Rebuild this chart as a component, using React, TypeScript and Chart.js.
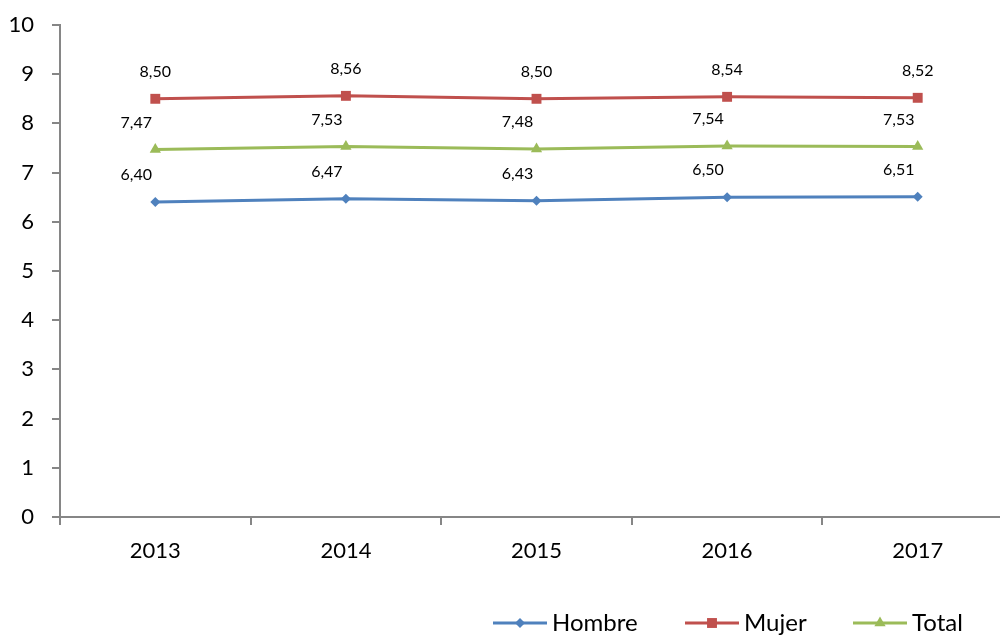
import React, { useEffect, useRef } from "react";
import { Chart, registerables } from "chart.js";

Chart.register(...registerables);

const categories = ["2013", "2014", "2015", "2016", "2017"];
const hombre = [6.4, 6.47, 6.43, 6.5, 6.51];
const mujer = [8.5, 8.56, 8.5, 8.54, 8.52];
const total = [7.47, 7.53, 7.48, 7.54, 7.53];
const seriesNames = ["Hombre", "Mujer", "Total"];

const FONT = "Lato, 'Open Sans', sans-serif";
const COLORS = ["#4F81BD", "#C0504D", "#9BBB59"];
const POINT_STYLES = ["rectRot", "rect", "triangle"];
const POINT_RADII = [5, 7, 6.5];
const LABEL_DX = [-19, 0, -19];

function drawMarker(ctx: CanvasRenderingContext2D, style: string, x: number, y: number, r: number) {
  ctx.beginPath();
  if (style === "rectRot") {
    ctx.moveTo(x, y - r);
    ctx.lineTo(x + r, y);
    ctx.lineTo(x, y + r);
    ctx.lineTo(x - r, y);
    ctx.closePath();
  } else if (style === "rect") {
    const s = Math.SQRT1_2 * r;
    ctx.rect(x - s, y - s, 2 * s, 2 * s);
  } else {
    const a = (2 * Math.PI) / 3;
    ctx.moveTo(x, y - r);
    ctx.lineTo(x + Math.sin(a) * r, y - Math.cos(a) * r);
    ctx.lineTo(x - Math.sin(a) * r, y - Math.cos(a) * r);
    ctx.closePath();
  }
  ctx.fill();
}

const dataLabelPlugin = {
  id: "dataLabels",
  afterDatasetsDraw(chart: any) {
    const ctx = chart.ctx as CanvasRenderingContext2D;
    ctx.save();
    ctx.font = `16px ${FONT}`;
    ctx.fillStyle = "#000";
    ctx.textAlign = "center";
    ctx.textBaseline = "middle";
    chart.data.datasets.forEach((ds: any, di: number) => {
      const meta = chart.getDatasetMeta(di);
      meta.data.forEach((pt: any, i: number) => {
        const v = ds.data[i] as number;
        ctx.fillText(v.toFixed(2).replace(".", ","), pt.x + LABEL_DX[di], pt.y - 27);
      });
    });
    ctx.restore();
  },
};

const legendPlugin = {
  id: "customLegend",
  afterDraw(chart: any) {
    const ctx = chart.ctx as CanvasRenderingContext2D;
    const starts = [493, 685, 853];
    const y = 623;
    ctx.save();
    ctx.font = `24px ${FONT}`;
    ctx.textBaseline = "alphabetic";
    ctx.textAlign = "left";
    seriesNames.forEach((name, i) => {
      const x0 = starts[i];
      ctx.strokeStyle = COLORS[i];
      ctx.fillStyle = COLORS[i];
      ctx.lineWidth = 3;
      ctx.beginPath();
      ctx.moveTo(x0, y);
      ctx.lineTo(x0 + 54, y);
      ctx.stroke();
      drawMarker(ctx, POINT_STYLES[i], x0 + 27, y, POINT_RADII[i]);
      ctx.fillStyle = "#000";
      ctx.fillText(name, x0 + 59, 631);
    });
    ctx.restore();
  },
};

export default function App() {
  const ref = useRef<HTMLCanvasElement | null>(null);

  useEffect(() => {
    if (!ref.current) return;
    const values = [hombre, mujer, total];
    const chart = new Chart(ref.current, {
      type: "line",
      data: {
        labels: categories,
        datasets: seriesNames.map((name, i) => ({
          label: name,
          data: values[i],
          borderColor: COLORS[i],
          backgroundColor: COLORS[i],
          borderWidth: 3,
          pointStyle: POINT_STYLES[i] as any,
          pointRadius: POINT_RADII[i],
          pointBorderWidth: 0,
          pointBackgroundColor: COLORS[i],
          tension: 0,
        })),
      },
      options: {
        responsive: false,
        animation: false,
        layout: { padding: { top: 25, left: 0, right: 0, bottom: 58 } },
        plugins: {
          legend: { display: false },
          tooltip: { enabled: false },
        },
        scales: {
          x: {
            type: "category",
            offset: true,
            afterFit: (s: any) => {
              s.height = 60;
            },
            border: { display: true, color: "#868686", width: 2 },
            grid: {
              display: true,
              drawOnChartArea: false,
              drawTicks: true,
              tickLength: 8,
              color: "#868686",
              lineWidth: 2,
              offset: true,
            },
            ticks: {
              color: "#000",
              font: { family: FONT, size: 22 },
              padding: 13,
              maxRotation: 0,
            },
          },
          y: {
            min: 0,
            max: 10,
            afterFit: (s: any) => {
              s.width = 60;
              s.paddingTop = 0;
              s.paddingBottom = 0;
            },
            border: { display: true, color: "#868686", width: 2 },
            grid: {
              display: true,
              drawOnChartArea: false,
              drawTicks: true,
              tickLength: 8,
              color: "#868686",
              lineWidth: 2,
            },
            ticks: {
              stepSize: 1,
              color: "#000",
              font: { family: FONT, size: 22 },
              padding: 18,
            },
          },
        },
      },
      plugins: [dataLabelPlugin, legendPlugin],
    });
    return () => chart.destroy();
  }, []);

  return (
    <div
      style={{
        position: "fixed",
        left: 0,
        top: 0,
        width: 1000,
        height: 635,
        overflow: "hidden",
        background: "#fff",
      }}
    >
      <canvas ref={ref} width={1020} height={635} style={{ width: 1020, height: 635, display: "block" }} />
    </div>
  );
}
